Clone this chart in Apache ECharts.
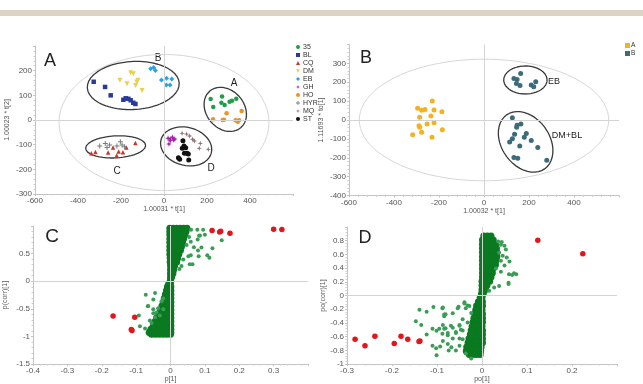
<!DOCTYPE html>
<html>
<head>
<meta charset="utf-8">
<script src="https://cdn.jsdelivr.net/npm/echarts@6/dist/echarts.min.js"></script>
<style>
  html, body { margin: 0; padding: 0; background: #fff; }
  #chart { width: 643px; height: 384px; }
</style>
</head>
<body>
<div id="chart"></div>
<script>
/* ---- panel A : PCA scores, one series per sample group ---- */
var groupNames = ['35', 'BL', 'CQ', 'DM', 'EB', 'GH', 'HO', 'HYR', 'MQ', 'ST'];
var s35 = [[217,85],[229,53],[270,95],[267,70],[282,61],[305,74],[316,78],[336,86]];
var sBL = [[-327,155],[-274,134],[-248,100],[-189,82],[-178,88],[-166,86],[-155,80],[-143,70],[-133,65]];
var sCQ = [[-338,-135],[-319,-130],[-260,-132],[-220,-144],[-211,-128],[-191,-131],[-175,-111],[-133,-93],[-237,-111]];
var sDM = [[-155,192],[-143,188],[-205,161],[-172,147],[-121,161],[-127,154],[-132,140],[-102,120]];
var sEB = [[-62,208],[-48,213],[-40,201],[-12,162],[12,169],[36,166],[11,142],[28,142]];
var sGH = [[19,-74],[29,-77],[39,-70],[50,-77],[29,-84],[45,-81],[23,-97]];
var sHO = [[228,3],[273,0],[279,1],[291,27],[333,-1],[343,-7],[349,-1],[361,36]];
var sHYR = [[-299,-105],[-273,-95],[-253,-101],[-265,-111],[-203,-88],[-219,-105],[-195,-101],[-183,-108]];
var sMQ = [[84,-54],[105,-57],[119,-65],[133,-78],[141,-85],[169,-95],[164,-115],[206,-119]];
var sST = [[88,-84],[93,-105],[85,-115],[101,-112],[113,-138],[95,-135],[107,-135],[67,-153],[73,-159],[115,-162]];

/* ---- panel B : OPLS-DA scores, class A / class B ---- */
var classA = [[-230,101],[-295,62],[-277,51],[-262,55],[-222,53],[-187,44],[-236,21],[-286,14],
              [-253,-21],[-222,-14],[-289,-30],[-286,-39],[-277,-65],[-317,-78],[-185,-51],[-231,-92]];
var classB = [[133,220],[147,215],[163,247],[144,194],[160,183],[210,185],[221,176],[230,203],
              [126,12],[164,-21],[147,-28],[145,-39],[136,-76],[188,-71],[179,-92],[126,-99],
              [114,-116],[159,-138],[210,-109],[239,-146],[133,-199],[150,-203],[279,-213]];

/* ---- panel C : S-plot p[1] vs p(corr)[1]; dense core as rows [y, [x...]] ---- */
var cCoreRows = [
  [0.96, [-0.002,0.008,0.018,0.028,0.038,0.048]], [0.90, [-0.002,0.008,0.018,0.028,0.038,0.045]],
  [0.84, [-0.002,0.008,0.018,0.028,0.037,0.042]], [0.77, [-0.002,0.008,0.018,0.028,0.038]],
  [0.70, [-0.002,0.008,0.018,0.027,0.035]], [0.63, [-0.002,0.008,0.018,0.026,0.032]],
  [0.56, [-0.002,0.008,0.017,0.025,0.029]], [0.49, [-0.002,0.008,0.016,0.024]],
  [0.42, [-0.001,0.007,0.015,0.021]], [0.35, [-0.001,0.007,0.013,0.018]],
  [0.28, [0,0.006,0.012]], [0.21, [0,0.005,0.009]], [0.14, [0,0.004,0.007]], [0.07, [0,0.003]], [0.02, [0]],
  [-0.04, [-0.005,0]], [-0.10, [-0.009,-0.003,0.001]], [-0.17, [-0.012,-0.005,0.001]],
  [-0.24, [-0.015,-0.007,0.001]], [-0.31, [-0.018,-0.010,-0.002,0.001]],
  [-0.38, [-0.021,-0.013,-0.005,0.001]], [-0.45, [-0.025,-0.016,-0.008,0.001]],
  [-0.52, [-0.029,-0.020,-0.011,-0.003,0.001]], [-0.59, [-0.034,-0.025,-0.016,-0.007,0.001]],
  [-0.66, [-0.040,-0.030,-0.020,-0.010,0.001]], [-0.73, [-0.045,-0.035,-0.025,-0.015,-0.005,0.001]],
  [-0.80, [-0.050,-0.040,-0.030,-0.020,-0.010,0.001]],
  [-0.87, [-0.057,-0.047,-0.036,-0.025,-0.014,-0.004,0.001]],
  [-0.93, [-0.062,-0.052,-0.041,-0.030,-0.019,-0.009,0.001]],
  [-0.96, [-0.055,-0.044,-0.033,-0.022,-0.011,0]]
];
var cSpread = [[0.060,0.934],[0.078,0.934],[0.095,0.934],[0.086,0.830],[0.054,0.801],[0.079,0.754],
  [0.059,0.714],[0.047,0.656],[0.068,0.615],[0.090,0.609],[0.080,0.557],[0.122,0.598],[0.052,0.452],
  [0.059,0.470],[0.082,0.452],[0.107,0.470],[0.113,0.424],[0.037,0.394],[0.064,0.307],[0.056,0.307],
  [0.032,0.278],[0.026,0.220],[0.149,0.742],[0.083,0.823],[0.100,0.840],
  [-0.045,-0.215],[-0.050,-0.331],[-0.065,-0.448],[-0.021,-0.314],[-0.026,-0.360],[-0.036,-0.488],
  [-0.050,-0.506],[-0.041,-0.564],[-0.021,-0.506],[-0.060,-0.709],[-0.089,-0.814],[-0.074,-0.855],
  [-0.045,-0.651],[-0.031,-0.622],[-0.055,-0.756],[-0.072,-0.244],[-0.066,-0.453],[-0.092,-0.620],
  [-0.050,-0.580]];
var cMarked = [[-0.167,-0.628],[-0.104,-0.650],[-0.112,-0.890],[-0.114,-0.875],[0.121,0.917],
  [0.143,0.890],[0.146,0.905],[0.173,0.870],[0.300,0.940],[0.324,0.935]];

/* ---- panel D : S-plot po[1] vs po(corr)[1] ---- */
var dCoreRows = [
  [0.87, [0.004,0.012,0.020]], [0.81, [0.001,0.009,0.017,0.025]], [0.75, [0.001,0.009,0.017,0.025,0.030]],
  [0.69, [0.001,0.009,0.017,0.025,0.032]], [0.63, [0.001,0.009,0.017,0.025,0.033]],
  [0.57, [0.001,0.009,0.017,0.025,0.033]], [0.51, [0.001,0.009,0.017,0.025,0.031]],
  [0.45, [0.001,0.009,0.017,0.025,0.030]], [0.39, [0.001,0.009,0.017,0.024]],
  [0.33, [0.001,0.009,0.017,0.023]], [0.27, [0.001,0.008,0.015,0.020]], [0.21, [0,0.007,0.013,0.017]],
  [0.15, [0,0.006,0.011]], [0.09, [0,0.005,0.008]], [0.03, [-0.001,0.003]],
  [-0.03, [-0.004,0]], [-0.09, [-0.008,-0.002,0.001]], [-0.15, [-0.012,-0.005,0.001]],
  [-0.21, [-0.014,-0.007,0]], [-0.27, [-0.016,-0.009,-0.002,0.001]], [-0.33, [-0.018,-0.011,-0.004,0.001]],
  [-0.39, [-0.020,-0.013,-0.006,0.001]], [-0.45, [-0.022,-0.015,-0.008,0]],
  [-0.51, [-0.024,-0.017,-0.010,-0.003,0.001]], [-0.57, [-0.026,-0.019,-0.012,-0.005,0.001]],
  [-0.63, [-0.029,-0.021,-0.013,-0.005,0.001]], [-0.69, [-0.031,-0.023,-0.015,-0.007,0.001]],
  [-0.75, [-0.034,-0.026,-0.018,-0.010,-0.002]], [-0.81, [-0.035,-0.027,-0.019,-0.011,-0.003]],
  [-0.86, [-0.028,-0.020,-0.012,-0.004]]
];
var dSpread = [[0.036,0.787],[0.042,0.741],[0.050,0.727],[0.053,0.671],[0.038,0.625],[0.046,0.579],
  [0.055,0.556],[0.042,0.509],[0.061,0.495],[0.071,0.324],[0.076,0.310],[0.067,0.301],[0.059,0.185],
  [0.038,0.139],[0.050,0.440],[0.031,0.394],[0.042,0.347],[0.027,0.116],[0.016,0.069],[0.044,0.780],
  [0.060,0.310],[0.059,0.170],
  [-0.139,-0.208],[-0.123,-0.236],[-0.108,-0.167],[-0.087,-0.176],[-0.081,-0.273],[-0.084,-0.278],
  [-0.065,-0.259],[-0.052,-0.162],[-0.039,-0.097],[-0.032,-0.144],[-0.147,-0.375],[-0.135,-0.431],
  [-0.123,-0.569],[-0.101,-0.514],[-0.087,-0.431],[-0.081,-0.477],[-0.076,-0.546],[-0.065,-0.468],
  [-0.058,-0.546],[-0.050,-0.431],[-0.047,-0.500],[-0.110,-0.731],[-0.102,-0.769],[-0.093,-0.745],
  [-0.087,-0.662],[-0.076,-0.708],[-0.068,-0.755],[-0.058,-0.801],[-0.050,-0.731],[-0.101,-0.870],
  [-0.074,-0.801],[-0.043,-0.639],[-0.024,-0.917],[-0.036,-0.847],
  [-0.039,-0.116],[-0.028,-0.153],[-0.036,-0.185],[-0.024,-0.255],[-0.043,-0.347],[-0.032,-0.394],
  [-0.050,-0.440],[-0.043,-0.509],[-0.058,-0.532],[-0.065,-0.625],[-0.050,-0.625],[-0.084,-0.486],
  [-0.088,-0.556],[-0.095,-0.486],[-0.088,-0.185],[-0.084,-0.301],[-0.054,-0.185],[-0.069,-0.440],
  [-0.076,-0.579],[-0.110,-0.486]];
var dMarked = [[0.124,0.806],[0.224,0.611],[-0.282,-0.639],[-0.260,-0.731],[-0.238,-0.593],
  [-0.195,-0.700],[-0.180,-0.593],[-0.165,-0.639],[-0.140,-0.670],[-0.138,-0.662]];

/* grid boxes (px) and axis ranges */
var boxes = [
  { left: 35,  top: 46,    width: 258, height: 148 },
  { left: 349, top: 44.5,  width: 270, height: 151 },
  { left: 33,  top: 226,   width: 275, height: 143.5 },
  { left: 347, top: 227,   width: 270, height: 144 }
];
var xRange = [[-600, 600, 200], [-600, 600, 200], [-0.4, 0.4, 0.1], [-0.3, 0.3, 0.1]];
var yRange = [[-300, 300, 100], [-400, 400, 100], [-1.5, 1, 0.5], [-1, 1, 0.2]];
var xNames = ['1.00031 * t[1]', '1.00032 * t[1]', 'p[1]', 'po[1]'];
var yNames = ['1.00023 * t[2]', '1.11693 * to[1]', 'p(corr)[1]', 'po(corr)[1]'];

var FONT = 'Liberation Sans, Arial, sans-serif';
var PLUS = 'path://M4,0H6V4H10V6H6V10H4V6H0V4H4Z';
var STAR = 'path://M5,0L6.2,3.8L10,5L6.2,6.2L5,10L3.8,6.2L0,5L3.8,3.8Z';

function rows(r) {
  var out = [];
  r.forEach(function (row) { row[1].forEach(function (x) { out.push([x, row[0]]); }); });
  return out;
}

/* ellipse outline; a, b, rotation given in screen px / degrees */
function ellipse(g, cx, cy, a, b, rot) {
  var sx = boxes[g].width / (xRange[g][1] - xRange[g][0]);
  var sy = boxes[g].height / (yRange[g][1] - yRange[g][0]);
  var r = rot * Math.PI / 180, pts = [];
  for (var i = 0; i <= 90; i++) {
    var t = i / 90 * 2 * Math.PI;
    var dx = a * Math.cos(t) * Math.cos(r) - b * Math.sin(t) * Math.sin(r);
    var dy = a * Math.cos(t) * Math.sin(r) + b * Math.sin(t) * Math.cos(r);
    pts.push([cx + dx / sx, cy + dy / sy]);
  }
  return pts;
}

function fmt(max) {
  return function (v) {
    if (Math.abs(v - max) < 1e-9) return '';
    return String(Math.round(v * 100) / 100);
  };
}

function axis(g, isX) {
  var rg = isX ? xRange[g] : yRange[g];
  return {
    type: 'value', gridIndex: g, min: rg[0], max: rg[1], interval: rg[2],
    name: isX ? xNames[g] : yNames[g], nameLocation: 'middle',
    nameGap: isX ? 10 : (g === 3 ? 18 : 24),
    nameTextStyle: { fontSize: 7, color: '#555', fontFamily: FONT },
    axisLine: { show: true, onZero: false, lineStyle: { color: '#c4c4c4', width: 1 } },
    axisTick: { show: true, length: 2, lineStyle: { color: '#c4c4c4' } },
    minorTick: { show: true, splitNumber: 5, length: 1.5, lineStyle: { color: '#cfcfcf' } },
    splitLine: { show: false },
    axisLabel: { fontSize: 8, color: '#555', margin: 3, fontFamily: FONT, formatter: fmt(rg[1]) }
  };
}

var zeroLine = {
  silent: true, symbol: ['none', 'none'], label: { show: false },
  lineStyle: { color: '#d4d4d4', width: 1, type: 'solid' },
  data: [{ xAxis: 0 }, { yAxis: 0 }]
};

function outline(g, pts, color, width, withZero) {
  var s = {
    type: 'line', xAxisIndex: g, yAxisIndex: g, data: pts, showSymbol: false, silent: true,
    lineStyle: { color: color, width: width }, z: 1, animation: false
  };
  if (withZero) s.markLine = zeroLine;
  return s;
}

function pts(g, name, data, color, symbol, size, extra) {
  var s = {
    type: 'scatter', name: name, xAxisIndex: g, yAxisIndex: g, data: data,
    symbol: symbol, symbolSize: size, itemStyle: { color: color, opacity: 1 }, z: 3
  };
  for (var k in extra) s[k] = extra[k];
  return s;
}

var chart = echarts.init(document.getElementById('chart'), null, { renderer: 'canvas' });

var series = [
  /* panel A outlines */
  outline(0, ellipse(0, 0, -10, 105, 68, 0), '#d6d6d6', 1, true),
  outline(0, ellipse(0, -143, 140, 46, 24, 3), '#3a3a3a', 1.3),
  outline(0, ellipse(0, 285, 43, 24, 19, -50), '#3a3a3a', 1.3),
  outline(0, ellipse(0, -225, -109, 30, 11, 3), '#3a3a3a', 1.3),
  outline(0, ellipse(0, 103, -107, 26, 19, -15), '#3a3a3a', 1.3),
  /* panel A points */
  pts(0, '35', s35, '#1f9e4a', 'circle', 4.5),
  pts(0, 'BL', sBL, '#2a3a9c', 'rect', 4.5),
  pts(0, 'CQ', sCQ, '#c23a2e', 'triangle', 4.5),
  pts(0, 'DM', sDM, '#e6d24e', 'path://M0,0H10L5,9Z', 5),
  pts(0, 'EB', sEB, '#2ea4df', 'diamond', 5),
  pts(0, 'GH', sGH, '#a11ea6', STAR, 6),
  pts(0, 'HO', sHO, '#f0921e', 'circle', 4.5),
  pts(0, 'HYR', sHYR, '#7a7a7a', PLUS, 5),
  pts(0, 'MQ', sMQ, '#8e7474', STAR, 5.5),
  pts(0, 'ST', sST, '#111111', 'circle', 5),
  /* panel B */
  outline(1, ellipse(1, 0, 0, 124.7, 60.8, 0), '#d6d6d6', 1, true),
  outline(1, ellipse(1, 184, 212, 21.7, 14, 0), '#3a3a3a', 1.3),
  outline(1, ellipse(1, 185, -116, 33, 24, -55), '#3a3a3a', 1.3),
  pts(1, 'A', classA, '#f2b322', 'circle', 5),
  pts(1, 'B', classB, '#3d6b7e', 'circle', 5),
  /* panel C */
  pts(2, 'cCore', rows(cCoreRows), '#0a7a21', 'circle', 7, { markLine: zeroLine }),
  pts(2, 'cSpread', cSpread, '#3a9d55', 'circle', 4),
  pts(2, 'cMarked', cMarked, '#e3141b', 'circle', 5.5),
  /* panel D */
  pts(3, 'dCore', rows(dCoreRows), '#0a7a21', 'circle', 7, { markLine: zeroLine }),
  pts(3, 'dSpread', dSpread, '#3a9d55', 'circle', 4),
  pts(3, 'dMarked', dMarked, '#e3141b', 'circle', 5.5)
];

function label(txt, x, y, size) {
  return {
    type: 'text', x: x, y: y, silent: true,
    style: { text: txt, font: size + 'px ' + FONT, fill: '#222', align: 'center', verticalAlign: 'middle' }
  };
}

var option = {
  animation: false,
  textStyle: { fontFamily: FONT },
  grid: boxes.map(function (b) {
    return { left: b.left, top: b.top, width: b.width, height: b.height, containLabel: false };
  }),
  xAxis: [0, 1, 2, 3].map(function (g) { return axis(g, true); }),
  yAxis: [0, 1, 2, 3].map(function (g) { return axis(g, false); }),
  legend: [
    {
      data: groupNames, orient: 'vertical', left: 296, top: 43, padding: 0,
      itemWidth: 4, itemHeight: 4, itemGap: 0, selectedMode: false,
      textStyle: { fontSize: 7, lineHeight: 8, color: '#333', padding: [0, 0, 0, -2] }
    },
    {
      data: ['A', 'B'], orient: 'vertical', left: 625, top: 42, padding: 0, icon: 'rect',
      itemWidth: 5, itemHeight: 5, itemGap: 1, selectedMode: false,
      textStyle: { fontSize: 6.5, lineHeight: 6, color: '#333', padding: [0, 0, 0, -4] }
    }
  ],
  graphic: [
    { type: 'rect', shape: { x: 0, y: 10, width: 643, height: 6 }, style: { fill: '#ddd5c4' }, silent: true },
    label('A', 50, 61, 18), label('B', 366, 58, 18), label('C', 52, 237, 19), label('D', 365, 238, 18),
    label('B', 158, 58, 10), label('A', 234, 83, 10), label('C', 117, 171, 10), label('D', 211, 168, 10),
    label('EB', 554, 82, 9), label('DM+BL', 567, 136, 9)
  ],
  series: series
};

chart.setOption(option);
</script>
</body>
</html>
